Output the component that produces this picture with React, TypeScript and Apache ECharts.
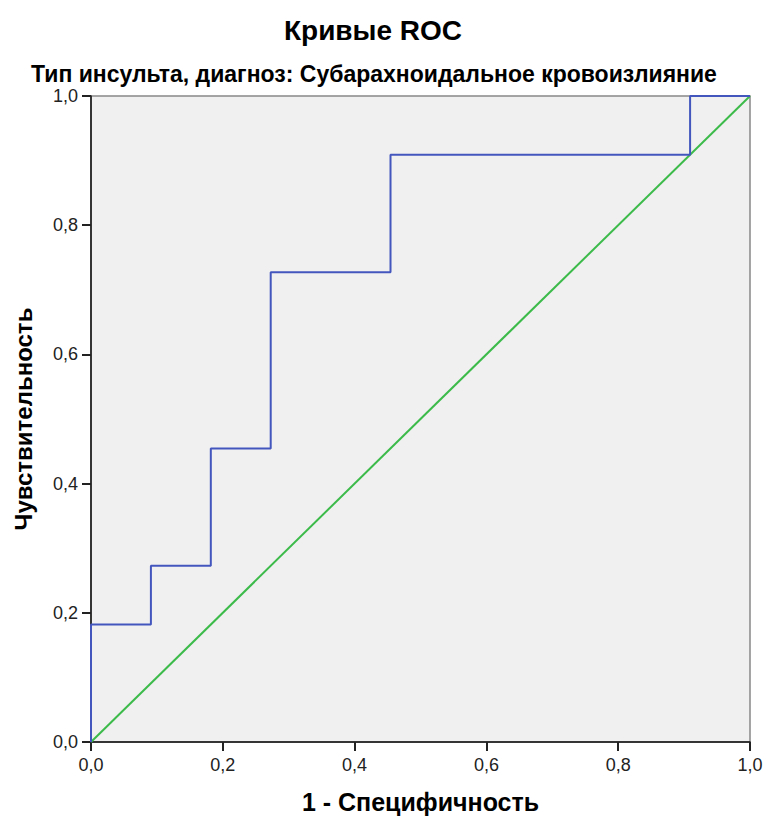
import React, { useEffect, useRef } from "react";
import * as echarts from "echarts";

const rocX = [0, 0, 0.0909, 0.0909, 0.1818, 0.1818, 0.2727, 0.2727, 0.4545, 0.4545, 0.9091, 0.9091, 1];
const rocY = [0, 0.1818, 0.1818, 0.2727, 0.2727, 0.4545, 0.4545, 0.7273, 0.7273, 0.9091, 0.9091, 1, 1];
const refX = [0, 1];
const refY = [0, 1];

const titleText = "Кривые ROC";
const subtitleText = "Тип инсульта, диагноз: Субарахноидальное кровоизлияние";
const xName = "1 - Специфичность";
const yName = "Чувствительность";

const fmt = (v: number) => v.toFixed(1).replace(".", ",");

export default function App() {
  const ref = useRef<HTMLDivElement>(null);
  useEffect(() => {
    document.body.style.margin = "0";
    const chart = echarts.init(ref.current!, null, { renderer: "svg" });
    const font = "'Liberation Sans', Arial, sans-serif";
    chart.setOption({
      animation: false,
      backgroundColor: "#ffffff",
      textStyle: { fontFamily: font },
      title: [
        {
          text: titleText,
          left: 368,
          textAlign: "center",
          top: 11,
          textStyle: { fontSize: 28, fontWeight: "bold", color: "#000", fontFamily: font },
        },
        {
          text: subtitleText,
          left: 369,
          textAlign: "center",
          top: 57,
          textStyle: { fontSize: 23, fontWeight: "bold", color: "#000", fontFamily: font },
        },
      ],
      grid: {
        left: 91,
        right: 15,
        top: 96,
        bottom: 74,
        show: true,
        backgroundColor: "#f0f0f0",
        borderColor: "#888",
        borderWidth: 1.5,
        outerBoundsMode: "none",
        containLabel: false,
      },
      xAxis: {
        type: "value",
        min: 0,
        max: 1,
        interval: 0.2,
        name: xName,
        nameLocation: "middle",
        nameGap: 47,
        nameTextStyle: { fontSize: 25, fontWeight: "bold", color: "#000" },
        axisLine: { show: true, lineStyle: { color: "#111", width: 1.5 } },
        axisTick: { show: true, length: 9, lineStyle: { color: "#222", width: 2 } },
        axisLabel: { formatter: fmt, fontSize: 18, color: "#222", margin: 14 },
        splitLine: { show: false },
      },
      yAxis: {
        type: "value",
        min: 0,
        max: 1,
        interval: 0.2,
        name: yName,
        nameLocation: "middle",
        nameGap: 56,
        nameTextStyle: { fontSize: 24, fontWeight: "bold", color: "#000" },
        axisLine: { show: true, lineStyle: { color: "#111", width: 1.5 } },
        axisTick: { show: true, length: 9, lineStyle: { color: "#222", width: 2 } },
        axisLabel: { formatter: fmt, fontSize: 18, color: "#222", margin: 13 },
        splitLine: { show: false },
      },
      series: [
        {
          type: "line",
          data: refX.map((x, i) => [x, refY[i]]),
          showSymbol: false,
          lineStyle: { color: "#3cba4a", width: 2 },
          z: 2,
        },
        {
          type: "line",
          data: rocX.map((x, i) => [x, rocY[i]]),
          showSymbol: false,
          lineStyle: { color: "#4356be", width: 2 },
          z: 3,
        },
      ],
    });
    return () => chart.dispose();
  }, []);
  return <div ref={ref} style={{ width: 765, height: 816 }} />;
}
